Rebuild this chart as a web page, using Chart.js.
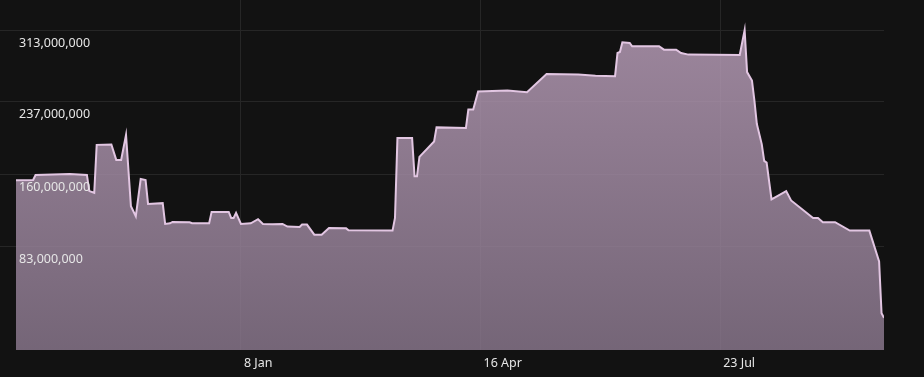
<!DOCTYPE html>
<html><head><meta charset="utf-8">
<script src="https://cdn.jsdelivr.net/npm/chart.js@4/dist/chart.umd.min.js"></script>
<style>html,body{margin:0;padding:0;background:#121212;} #wrap{width:924px;height:377px;position:relative;}</style>
</head><body><div id="wrap"><canvas id="c"></canvas></div>
<script>
// days relative to 8 Jan
const dayOffsets = [-92,-85,-84,-70,-63,-62,-60,-59,-53,-51,-49,-47,-45,-43,-41,-39,-38,-32,-31,-29,-28,-21,-20,-13,-12,-5,-4,-3,-2,0,4,7,9,13,17,19,24,25,27,30,33,36,43,44,62,63,64,70,71,72,73,79,80,92,93,95,97,109,117,125,138,145,153,154,155,156,159,160,171,173,178,180,183,204,206,207,209,210,211,213,214,215,217,223,225,234,236,238,243,249,257,261,262,263];
// values in millions
const valuesM = [153.3,153.6,159.0,160.0,159.0,141.8,140.0,191.0,191.4,175.0,175.0,201.7,125.8,115.1,154.7,153.6,128.2,129.0,106.9,107.6,109.0,108.7,107.6,107.6,119.7,119.7,113.3,113.3,118.6,106.9,107.6,111.9,106.9,106.5,106.9,104.1,103.6,106.2,106.2,95.5,95.5,102.6,102.2,100.1,99.8,113.3,198.2,198.2,157.6,157.6,178.2,194.6,209.6,208.9,228.5,228.5,247.7,248.8,247.0,266.3,265.9,264.5,264.1,288.7,289.8,300.2,299.4,295.9,295.9,292.3,292.3,288.7,287.0,286.6,313.0,268.4,259.5,238.1,213.2,191.8,173.9,172.1,132.9,141.8,131.9,113.3,113.3,108.7,108.7,99.8,99.8,66.9,11.9,7.0];
const xTickDays = [0, 98, 196];
const xTickLabels = ['8 Jan', '16 Apr', '23 Jul'];
const yTickValues = [83000000, 160000000, 237000000, 313000000];

const points = dayOffsets.map((d, i) => ({x: d, y: valuesM[i] * 1e6}));
const FONT = {family: '"Noto Sans", "Open Sans", sans-serif', size: 12.5};

new Chart(document.getElementById('c'), {
  type: 'line',
  data: {datasets: [{
    data: points,
    borderColor: '#e2c6e2',
    borderWidth: 2,
    pointRadius: 0,
    tension: 0,
    fill: 'start',
    backgroundColor: (ctx) => {
      const ca = ctx.chart.chartArea;
      if (!ca) return 'rgba(140,120,140,0.85)';
      const g = ctx.chart.ctx.createLinearGradient(0, ca.top, 0, ca.bottom);
      g.addColorStop(0, 'rgba(185,158,185,0.85)');
      g.addColorStop(1, 'rgba(135,117,138,0.85)');
      return g;
    }
  }]},
  options: {
    responsive: true, maintainAspectRatio: false, animation: false,
    layout: {padding: {top: 0, right: 40, bottom: 0, left: 0}},
    plugins: {legend: {display: false}, tooltip: {enabled: false}},
    scales: {
      x: {
        type: 'linear', min: dayOffsets[0], max: dayOffsets[dayOffsets.length - 1],
        afterBuildTicks: (s) => { s.ticks = xTickDays.map(v => ({value: v})); },
        afterFit: (s) => { s.paddingLeft = 0; s.paddingRight = 0; },
        grid: {color: '#262626', drawTicks: false},
        border: {display: false},
        ticks: {
          align: 'start', labelOffset: 3, padding: 6, color: '#e6e6e6', font: FONT,
          maxRotation: 0, autoSkip: false,
          callback: (v) => xTickLabels[xTickDays.indexOf(v)]
        }
      },
      y: {
        min: -27.2e6, max: 345.1e6,
        afterBuildTicks: (s) => { s.ticks = yTickValues.map(v => ({value: v})); },
        afterFit: (s) => { s.paddingTop = 0; s.paddingBottom = 0; s.width = 16; },
        grid: {color: '#262626', tickLength: 16},
        border: {display: false},
        ticks: {
          mirror: true, crossAlign: 'near', padding: 3, labelOffset: 13, z: 1,
          color: '#e6e6e6', font: FONT,
          callback: (v) => Number(v).toLocaleString('en-US')
        }
      }
    }
  }
});
</script></body></html>
